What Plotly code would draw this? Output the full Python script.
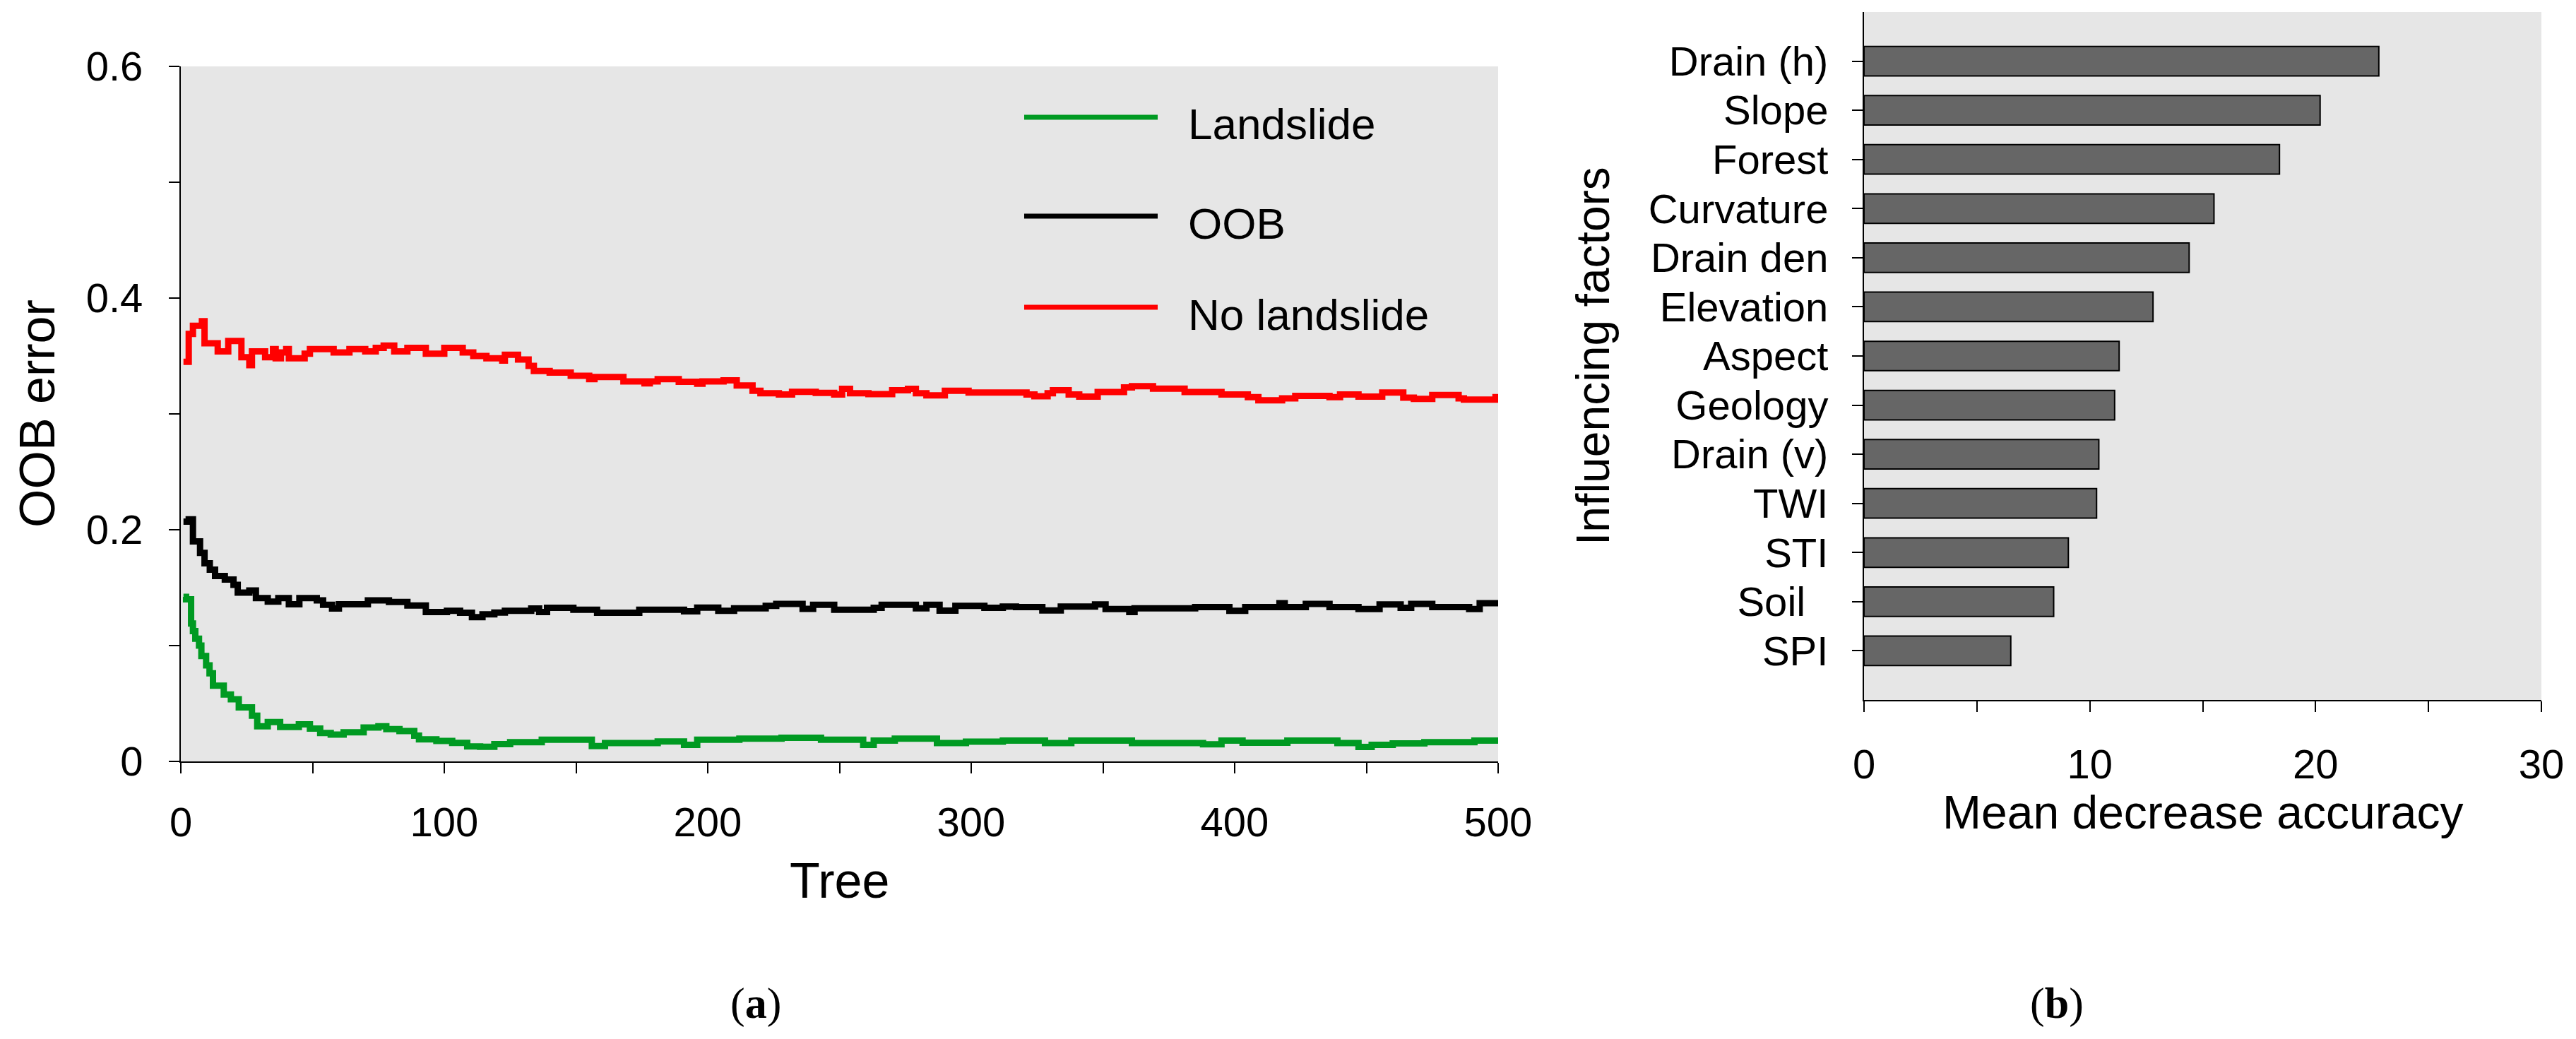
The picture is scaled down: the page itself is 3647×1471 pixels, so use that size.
import plotly.graph_objects as go

# (a) OOB error vs number of trees
landslide_tree = [1, 2, 3.9, 4.6, 5.5, 6.9, 7.8, 9.6, 10.9, 12.2, 16.3, 19, 22, 27, 29, 33, 37.7, 44.8,
                  49, 52.9, 56.9, 61.8, 69.4, 75, 78, 83, 88.6, 90.4, 97, 103, 108.7, 113.6, 119, 125,
                  137, 156, 161, 181, 191, 196, 212, 228, 243, 259, 263, 271, 287, 298, 312, 328, 338,
                  361, 388, 395, 403, 420, 439, 447, 452, 460, 472, 491, 500]
landslide_err = [0.142, 0.140, 0.119, 0.1125, 0.106, 0.100, 0.091, 0.083, 0.076, 0.0654, 0.0577, 0.0537,
                 0.0466, 0.0395, 0.0303, 0.034, 0.0297, 0.032, 0.0283, 0.0246, 0.0232, 0.0252, 0.0293,
                 0.0303, 0.0279, 0.0262, 0.0222, 0.0191, 0.0177, 0.016, 0.013, 0.0126, 0.015, 0.0166,
                 0.0188, 0.0132, 0.0159, 0.0173, 0.0143, 0.0188, 0.0197, 0.0204, 0.0188, 0.0143, 0.018,
                 0.0197, 0.0159, 0.017, 0.018, 0.0159, 0.018, 0.0159, 0.0148, 0.018, 0.0162, 0.018,
                 0.0159, 0.0125, 0.0143, 0.0155, 0.0166, 0.018, 0.018]

oob_tree = [1, 3, 4.6, 7.3, 9, 11, 13, 16.7, 20, 21.6, 26, 28.5, 33, 37, 41, 45, 51.6, 54, 57.4, 60, 71,
            79, 86, 93, 101, 106, 110.5, 114.5, 119, 123, 133, 136, 139, 149, 158, 174, 191, 196, 204,
            210, 222, 226, 236, 240, 248, 263, 266, 279, 283, 288, 294, 305, 312, 317, 327, 334, 347,
            351, 360, 362, 385, 398, 404, 417, 419, 427, 436, 447, 455, 463, 467, 475, 489, 493, 500]
oob_err = [0.207, 0.209, 0.190, 0.180, 0.171, 0.1655, 0.160, 0.157, 0.1524, 0.1457, 0.1476, 0.141,
           0.138, 0.141, 0.1356, 0.141, 0.139, 0.1352, 0.132, 0.1356, 0.139, 0.1376, 0.1346, 0.129,
           0.130, 0.1283, 0.1245, 0.127, 0.1285, 0.130, 0.132, 0.1289, 0.1326, 0.131, 0.1284, 0.131,
           0.1295, 0.1328, 0.130, 0.1322, 0.1343, 0.136, 0.1317, 0.1352, 0.131, 0.1326, 0.1352,
           0.1322, 0.1352, 0.1302, 0.1343, 0.1326, 0.1337, 0.1333, 0.1303, 0.1337, 0.1355, 0.1315,
           0.1289, 0.1322, 0.1333, 0.130, 0.1333, 0.1366, 0.1333, 0.136, 0.1333, 0.1315, 0.1355,
           0.1326, 0.136, 0.1333, 0.1315, 0.1366, 0.1366]

nolandslide_tree = [1, 3, 4.6, 8, 9, 14, 18, 23, 26, 27, 32, 35, 36, 38, 40, 41, 47, 49, 58, 64, 70, 74,
                    77, 81, 86, 93, 100, 107, 111, 116, 122, 123, 128, 132, 134, 140, 148, 155, 157,
                    168, 176, 178, 181, 189, 196, 198, 206, 211, 217, 220, 227, 232, 241, 248, 251,
                    254, 261, 270, 276, 279, 283, 290, 299, 321, 324, 329, 331, 337, 341, 348, 358,
                    361, 369, 381, 395, 405, 409, 418, 423, 436, 440, 447, 456, 464, 468, 475, 485,
                    487, 499, 500]
nolandslide_err = [0.345, 0.369, 0.376, 0.380, 0.361, 0.354, 0.363, 0.349, 0.342, 0.354, 0.349, 0.356,
                   0.348, 0.353, 0.356, 0.348, 0.352, 0.356, 0.353, 0.356, 0.354, 0.357, 0.359, 0.354,
                   0.357, 0.352, 0.357, 0.353, 0.350, 0.348, 0.346, 0.351, 0.347, 0.3415, 0.337,
                   0.3357, 0.333, 0.330, 0.3318, 0.328, 0.3263, 0.328, 0.330, 0.3277, 0.326, 0.328,
                   0.329, 0.3245, 0.320, 0.3178, 0.3167, 0.319, 0.3182, 0.3167, 0.3216, 0.3178, 0.317,
                   0.3205, 0.3216, 0.3178, 0.316, 0.320, 0.3185, 0.3167, 0.3152, 0.3178, 0.3205,
                   0.3167, 0.315, 0.3189, 0.3229, 0.324, 0.3218, 0.3189, 0.3167, 0.3145, 0.3118,
                   0.3134, 0.3156, 0.3145, 0.3167, 0.315, 0.3185, 0.314, 0.3129, 0.3163, 0.3134,
                   0.3123, 0.3145, 0.3145]

# (b) variable importance
factors = ["Drain (h)", "Slope", "Forest", "Curvature", "Drain den", "Elevation", "Aspect",
           "Geology", "Drain (v)", "TWI", "STI", "Soil\u00a0\u00a0", "SPI"]
importance = [22.8, 20.2, 18.4, 15.5, 14.4, 12.8, 11.3, 11.1, 10.4, 10.3, 9.05, 8.4, 6.5]

x_ticks_a = [0, 50, 100, 150, 200, 250, 300, 350, 400, 450, 500]
x_text_a = ["0", "", "100", "", "200", "", "300", "", "400", "", "500"]
y_ticks_a = [0, 0.1, 0.2, 0.3, 0.4, 0.5, 0.6]
y_text_a = ["0", "", "0.2", "", "0.4", "", "0.6"]
x_ticks_b = [0, 5, 10, 15, 20, 25, 30]
x_text_b = ["0", "", "10", "", "20", "", "30"]

GREEN = "#009a22"
FONT = "Liberation Sans"
W, H = 3647, 1471
OFF = 8  # page body margin


def px(x):
    # pixel column of the target picture -> paper x
    return (x - OFF) / W


def py(y):
    # pixel row of the target picture -> paper y
    return 1 - (y - OFF) / H


fig = go.Figure()
fig.add_trace(go.Scatter(x=landslide_tree, y=landslide_err, mode="lines", line_shape="hv",
                         line=dict(color=GREEN, width=9), name="Landslide"))
fig.add_trace(go.Scatter(x=oob_tree, y=oob_err, mode="lines", line_shape="hv",
                         line=dict(color="black", width=9), name="OOB"))
fig.add_trace(go.Scatter(x=nolandslide_tree, y=nolandslide_err, mode="lines", line_shape="hv",
                         line=dict(color="red", width=9), name="No landslide"))
fig.add_trace(go.Bar(x=importance, y=factors, orientation="h", width=0.6,
                     marker=dict(color="#666666", line=dict(color="black", width=2)),
                     xaxis="x2", yaxis="y2", showlegend=False))

axis_common = dict(showline=True, linecolor="black", linewidth=2, ticks="outside",
                   ticklen=15, tickwidth=2, tickcolor="black", showgrid=False, zeroline=False,
                   automargin=False,
                   tickfont=dict(family=FONT, size=58, color="black"))

fig.update_layout(
    width=W, height=H,
    margin=dict(l=0, r=0, t=0, b=0),
    paper_bgcolor="white",
    plot_bgcolor="#e6e6e6",
    showlegend=False,
    font=dict(family=FONT, color="black"),
    xaxis=dict(domain=[px(256), px(2121)], range=[0, 500], tickvals=x_ticks_a, ticktext=x_text_a,
               anchor="y", ticklabelstandoff=19, **axis_common),
    yaxis=dict(domain=[py(1078), py(94)], range=[0, 0.6], tickvals=y_ticks_a, ticktext=y_text_a,
               anchor="x", ticklabelstandoff=25, **axis_common),
    xaxis2=dict(domain=[px(2639), px(3598)], range=[0, 30], tickvals=x_ticks_b, ticktext=x_text_b,
                anchor="y2", ticklabelstandoff=24, **axis_common),
    yaxis2=dict(domain=[py(991), py(17)], range=[13, -1], type="category", anchor="x2",
                dtick=1, ticklabelstandoff=22, **axis_common),
)

# legend drawn inside panel (a)
legend_items = [("Landslide", GREEN, 166), ("OOB", "black", 306), ("No landslide", "red", 435)]
for label, color, ly in legend_items:
    fig.add_shape(type="line", xref="paper", yref="paper", x0=px(1450), x1=px(1639),
                  y0=py(ly), y1=py(ly), line=dict(color=color, width=7))
    fig.add_annotation(text=label, xref="paper", yref="paper", x=px(1680), y=py(ly + 10),
                       xanchor="left", yanchor="middle", showarrow=False,
                       font=dict(family=FONT, size=62, color="black"))

titles = [
    ("OOB error", 53, 586, -90, 70),
    ("Tree", 1188, 1247, 0, 70),
    ("Influencing factors", 2255, 504, -90, 66),
    ("Mean decrease accuracy", 3118, 1150, 0, 66),
]
for text, tx, ty, ang, size in titles:
    fig.add_annotation(text=text, xref="paper", yref="paper", x=px(tx), y=py(ty), textangle=ang,
                       xanchor="center", yanchor="middle", showarrow=False,
                       font=dict(family=FONT, size=size, color="black"))

for text, tx in [("(<b>a</b>)", 1070), ("(<b>b</b>)", 2912)]:
    fig.add_annotation(text=text, xref="paper", yref="paper", x=px(tx), y=py(1420),
                       xanchor="center", yanchor="middle", showarrow=False,
                       font=dict(family="Liberation Serif", size=62, color="black"))

fig.write_html("out.html")
